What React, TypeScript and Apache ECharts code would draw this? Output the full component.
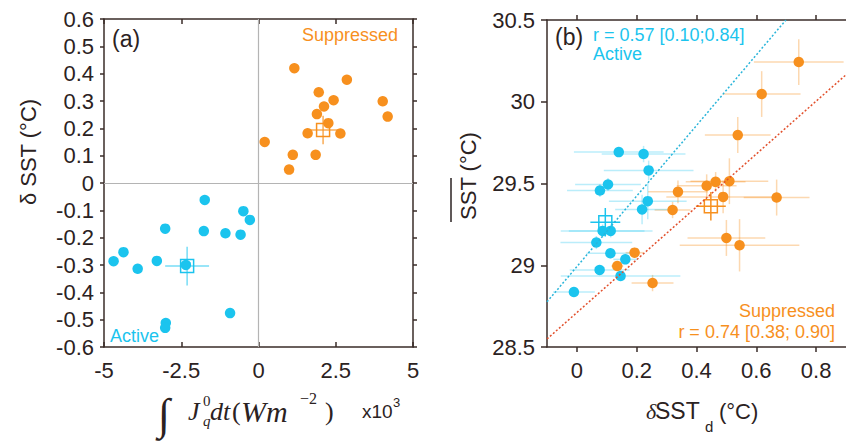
import React, { useEffect, useRef } from "react";
import * as echarts from "echarts";

// ---------- Panel (a) data ----------
const suppressedAX = [1.16, 2.86, 1.95, 2.43, 4.02, 2.12, 4.18, 1.89, 2.26, 1.59, 2.65, 0.2, 1.11, 1.85, 0.99];
const suppressedAY = [0.42, 0.378, 0.332, 0.303, 0.299, 0.28, 0.243, 0.252, 0.219, 0.182, 0.181, 0.15, 0.103, 0.103, 0.049];
const activeAX = [-1.74, -0.49, -0.28, -3.02, -1.77, -1.07, -0.58, -4.37, -4.69, -3.29, -3.91, -2.35, -0.92, -3.0, -3.02];
const activeAY = [-0.062, -0.103, -0.135, -0.167, -0.176, -0.184, -0.189, -0.253, -0.286, -0.285, -0.314, -0.3, -0.476, -0.512, -0.53];
// mean: x, y, xerr, yerr
const suppressedAMean = [2.09, 0.194, 0.53, 0.052];
const activeAMean = [-2.31, -0.304, 0.71, 0.071];

// ---------- Panel (b) data ----------
const suppressedBX = [0.742, 0.618, 0.538, 0.338, 0.434, 0.464, 0.51, 0.489, 0.668, 0.32, 0.5, 0.544, 0.193, 0.135, 0.253];
const suppressedBY = [30.243, 30.047, 29.796, 29.449, 29.486, 29.51, 29.514, 29.418, 29.414, 29.338, 29.167, 29.122, 29.077, 28.995, 28.891];
const suppressedBXErr = [0.15, 0.13, 0.11, 0.1, 0.1, 0.1, 0.13, 0.19, 0.11, 0.06, 0.13, 0.2, 0.03, 0.02, 0.07];
const suppressedBYErr = [0.14, 0.14, 0.11, 0.07, 0.07, 0.06, 0.14, 0.1, 0.11, 0.05, 0.11, 0.16, 0.03, 0.02, 0.05];
const activeBX = [0.14, 0.223, 0.24, 0.104, 0.077, 0.237, 0.218, 0.086, 0.113, 0.065, 0.112, 0.162, 0.076, 0.146, -0.01];
const activeBY = [29.692, 29.68, 29.58, 29.494, 29.457, 29.392, 29.341, 29.21, 29.21, 29.139, 29.073, 29.036, 28.971, 28.934, 28.836];
const activeBXErr = [0.15, 0.14, 0.15, 0.11, 0.11, 0.13, 0.09, 0.14, 0.14, 0.12, 0.08, 0.04, 0.1, 0.2, 0.07];
const activeBYErr = [0.03, 0.05, 0.06, 0.04, 0.04, 0.11, 0.09, 0.04, 0.04, 0.04, 0.03, 0.03, 0.03, 0.03, 0.03];
const suppressedBMean = [0.448, 29.361, 0.05, 0.087];
const activeBMean = [0.095, 29.263, 0.05, 0.087];
const activeFitX = [-0.1, 0.699];
const activeFitY = [28.776, 30.5];
const suppressedFitX = [-0.1, 0.9];
const suppressedFitY = [28.549, 30.165];
const xTicksB = [0, 0.2, 0.4, 0.6, 0.8];

const ORANGE = "#f7901e";
const CYAN = "#1bc4ee";
const AXIS = "#3a2c28";
const TEXT = "#2b2222";
const SANS = "'Liberation Sans', Arial, Helvetica, sans-serif";
const SERIF = "'Liberation Serif', 'Times New Roman', serif";

const zip2 = (a: number[], b: number[]) => a.map((v, i) => [v, b[i]]);
const zip4 = (a: number[], b: number[], c: number[], d: number[]) => a.map((v, i) => [v, b[i], c[i], d[i]]);

const errRender = (color: string, width: number) => (params: any, api: any) => {
  const x = api.value(0), y = api.value(1), xe = api.value(2), ye = api.value(3);
  const l = api.coord([x - xe, y]);
  const r = api.coord([x + xe, y]);
  const t = api.coord([x, y + ye]);
  const b = api.coord([x, y - ye]);
  return {
    type: "group",
    children: [
      { type: "line", shape: { x1: l[0], y1: l[1], x2: r[0], y2: r[1] }, style: { stroke: color, lineWidth: width } },
      { type: "line", shape: { x1: t[0], y1: t[1], x2: b[0], y2: b[1] }, style: { stroke: color, lineWidth: width } },
    ],
  };
};

const label = (extra: any = {}) => ({ color: TEXT, fontSize: 22, fontFamily: SANS, ...extra });

export default function App() {
  const ref = useRef<HTMLDivElement>(null);
  useEffect(() => {
    if (!ref.current) return;
    const chart = echarts.init(ref.current, undefined, { renderer: "svg" });
    const txt = (text: string, x: number, y: number, font: string, fill: string, align = "left", extra: any = {}) => ({
      type: "text",
      x,
      y,
      silent: true,
      ...extra,
      style: { text, font, fill, textAlign: align, textVerticalAlign: "middle" },
    });
    const option: any = {
      animation: false,
      backgroundColor: "#ffffff",
      grid: [
        { left: 104, top: 19, width: 309, height: 328 },
        { left: 547, top: 20, width: 302, height: 327 },
      ],
      xAxis: [
        {
          gridIndex: 0, type: "value", position: "bottom", min: -5, max: 5, interval: 2.5,
          axisLine: { onZero: false, lineStyle: { color: AXIS, width: 1.5 } },
          axisTick: { inside: true, length: 5, lineStyle: { color: AXIS, width: 1.5 } },
          axisLabel: label({ margin: 12, formatter: (v: number) => String(v) }),
          splitLine: { show: false },
        },
        {
          gridIndex: 0, type: "value", position: "top", min: -5, max: 5, interval: 2.5,
          axisLine: { onZero: false, lineStyle: { color: AXIS, width: 1.5 } },
          axisTick: { inside: true, length: 5, lineStyle: { color: AXIS, width: 1.5 } },
          axisLabel: { show: false },
          splitLine: { show: false },
        },
        {
          gridIndex: 1, type: "value", position: "bottom", min: -0.1, max: 0.9,
          axisLine: { onZero: false, lineStyle: { color: AXIS, width: 1.5 } },
          axisTick: { inside: false, length: 5, customValues: xTicksB, lineStyle: { color: AXIS, width: 1.5 } },
          axisLabel: label({ margin: 12, customValues: xTicksB, formatter: (v: number) => String(Math.round(v * 10) / 10) }),
          splitLine: { show: false },
        },
        {
          gridIndex: 1, type: "value", position: "top", min: -0.1, max: 0.9,
          axisLine: { onZero: false, lineStyle: { color: AXIS, width: 1.5 } },
          axisTick: { inside: false, length: 5, customValues: xTicksB, lineStyle: { color: AXIS, width: 1.5 } },
          axisLabel: { show: false },
          splitLine: { show: false },
        },
      ],
      yAxis: [
        {
          gridIndex: 0, type: "value", position: "left", min: -0.6, max: 0.6, interval: 0.1,
          axisLine: { onZero: false, lineStyle: { color: AXIS, width: 1.5 } },
          axisTick: { inside: false, length: 4, lineStyle: { color: AXIS, width: 1.5 } },
          axisLabel: label({ margin: 10, formatter: (v: number) => (Math.abs(v) < 1e-9 ? "0" : v.toFixed(1)) }),
          splitLine: { show: false },
        },
        {
          gridIndex: 0, type: "value", position: "right", min: -0.6, max: 0.6, interval: 0.1,
          axisLine: { onZero: false, lineStyle: { color: AXIS, width: 1.5 } },
          axisTick: { inside: false, length: 4, lineStyle: { color: AXIS, width: 1.5 } },
          axisLabel: { show: false },
          splitLine: { show: false },
        },
        {
          gridIndex: 1, type: "value", position: "left", min: 28.5, max: 30.5, interval: 0.5,
          axisLine: { onZero: false, lineStyle: { color: AXIS, width: 1.5 } },
          axisTick: { inside: false, length: 6, lineStyle: { color: AXIS, width: 1.5 } },
          axisLabel: label({ margin: 12 }),
          splitLine: { show: false },
        },
      ],
      series: [
        // ---- panel (a) ----
        {
          type: "line", xAxisIndex: 0, yAxisIndex: 0, data: [], silent: true,
          markLine: {
            silent: true, symbol: ["none", "none"], label: { show: false },
            lineStyle: { color: "#b4b4b4", type: "solid", width: 1.2 },
            data: [{ xAxis: 0 }, { yAxis: 0 }],
          },
        },
        {
          type: "custom", xAxisIndex: 0, yAxisIndex: 0, clip: false,
          renderItem: errRender("rgba(247,144,30,0.75)", 1.5),
          data: [suppressedAMean], encode: { x: 0, y: 1 },
        },
        {
          type: "custom", xAxisIndex: 0, yAxisIndex: 0, clip: false,
          renderItem: errRender("rgba(27,196,238,0.6)", 1.5),
          data: [activeAMean], encode: { x: 0, y: 1 },
        },
        {
          type: "scatter", xAxisIndex: 0, yAxisIndex: 0, symbolSize: 10.5,
          itemStyle: { color: ORANGE, opacity: 1 }, data: zip2(suppressedAX, suppressedAY),
        },
        {
          type: "scatter", xAxisIndex: 0, yAxisIndex: 0, symbolSize: 10.5,
          itemStyle: { color: CYAN, opacity: 1 }, data: zip2(activeAX, activeAY),
        },
        {
          type: "scatter", xAxisIndex: 0, yAxisIndex: 0, symbol: "rect", symbolSize: 13,
          itemStyle: { color: "rgba(0,0,0,0)", borderColor: ORANGE, borderWidth: 1.5, opacity: 1 },
          data: [[suppressedAMean[0], suppressedAMean[1]]],
        },
        {
          type: "scatter", xAxisIndex: 0, yAxisIndex: 0, symbol: "rect", symbolSize: 13,
          itemStyle: { color: "rgba(0,0,0,0)", borderColor: CYAN, borderWidth: 1.5, opacity: 1 },
          data: [[activeAMean[0], activeAMean[1]]],
        },
        // ---- panel (b) ----
        {
          type: "custom", xAxisIndex: 2, yAxisIndex: 2, clip: false,
          renderItem: errRender("rgba(247,144,30,0.35)", 1.5),
          data: zip4(suppressedBX, suppressedBY, suppressedBXErr, suppressedBYErr), encode: { x: 0, y: 1 },
        },
        {
          type: "custom", xAxisIndex: 2, yAxisIndex: 2, clip: false,
          renderItem: errRender("rgba(27,196,238,0.3)", 1.5),
          data: zip4(activeBX, activeBY, activeBXErr, activeBYErr), encode: { x: 0, y: 1 },
        },
        {
          type: "line", xAxisIndex: 2, yAxisIndex: 2, symbol: "none", silent: true,
          lineStyle: { color: "#2ab5da", width: 1.5, type: [2, 2] },
          data: zip2(activeFitX, activeFitY),
        },
        {
          type: "line", xAxisIndex: 2, yAxisIndex: 2, symbol: "none", silent: true,
          lineStyle: { color: "#e2502c", width: 1.5, type: [2, 2] },
          data: zip2(suppressedFitX, suppressedFitY),
        },
        {
          type: "scatter", xAxisIndex: 2, yAxisIndex: 2, symbolSize: 10.5,
          itemStyle: { color: ORANGE, opacity: 1 }, data: zip2(suppressedBX, suppressedBY),
        },
        {
          type: "scatter", xAxisIndex: 2, yAxisIndex: 2, symbolSize: 10.5,
          itemStyle: { color: CYAN, opacity: 1 }, data: zip2(activeBX, activeBY),
        },
        {
          type: "custom", xAxisIndex: 2, yAxisIndex: 2, clip: false,
          renderItem: errRender(ORANGE, 1.5),
          data: [suppressedBMean], encode: { x: 0, y: 1 },
        },
        {
          type: "custom", xAxisIndex: 2, yAxisIndex: 2, clip: false,
          renderItem: errRender(CYAN, 1.5),
          data: [activeBMean], encode: { x: 0, y: 1 },
        },
        {
          type: "scatter", xAxisIndex: 2, yAxisIndex: 2, symbol: "rect", symbolSize: 13,
          itemStyle: { color: "rgba(0,0,0,0)", borderColor: ORANGE, borderWidth: 1.5, opacity: 1 },
          data: [[suppressedBMean[0], suppressedBMean[1]]],
        },
        {
          type: "scatter", xAxisIndex: 2, yAxisIndex: 2, symbol: "rect", symbolSize: 13,
          itemStyle: { color: "rgba(0,0,0,0)", borderColor: CYAN, borderWidth: 1.5, opacity: 1 },
          data: [[activeBMean[0], activeBMean[1]]],
        },
      ],
      graphic: [
        // panel (a) annotations
        txt("(a)", 112, 39, `23px ${SANS}`, TEXT),
        txt("Suppressed", 302, 35, `18px ${SANS}`, ORANGE),
        txt("Active", 110, 336, `18px ${SANS}`, CYAN),
        txt("δ SST (°C)", 28, 152, `22px ${SANS}`, TEXT, "center", { rotation: Math.PI / 2 }),
        // x label (a): integral expression
        txt("∫", 164, 414, `italic 44px ${SERIF}`, TEXT, "center"),
        txt("J", 188, 411, `italic 26px ${SERIF}`, TEXT),
        txt("0", 203, 401, `15px ${SERIF}`, TEXT),
        txt("q", 203, 421, `italic 15px ${SERIF}`, TEXT),
        txt("dt", 210, 411, `italic 26px ${SERIF}`, TEXT),
        txt("(", 232, 411, `26px ${SERIF}`, TEXT),
        txt("Wm", 241, 411, `italic 30px ${SERIF}`, TEXT),
        txt("−2", 300, 398, `16px ${SERIF}`, TEXT),
        txt(")", 325, 411, `26px ${SERIF}`, TEXT),
        txt("x10", 362, 411, `19px ${SANS}`, TEXT),
        txt("3", 393, 402, `13px ${SANS}`, TEXT),
        // panel (b) annotations
        txt("(b)", 555, 37, `23px ${SANS}`, TEXT),
        txt("r = 0.57 [0.10;0.84]", 593, 35, `18px ${SANS}`, CYAN),
        txt("Active", 593, 54, `18px ${SANS}`, CYAN),
        txt("Suppressed", 835, 311, `18px ${SANS}`, ORANGE, "right"),
        txt("r = 0.74 [0.38; 0.90]", 835, 332, `18px ${SANS}`, ORANGE, "right"),
        txt("SST (°C)", 468, 176, `22px ${SANS}`, TEXT, "center", { rotation: Math.PI / 2 }),
        {
          type: "line", silent: true,
          shape: { x1: 451, y1: 178, x2: 451, y2: 222 },
          style: { stroke: TEXT, lineWidth: 1.5 },
        },
        txt("δ", 646, 411, `italic 22px ${SERIF}`, TEXT),
        txt("SST", 655, 411, `23px ${SANS}`, TEXT),
        txt("d", 705, 426, `15px ${SANS}`, TEXT),
        txt("(°C)", 719, 411, `22px ${SANS}`, TEXT),
      ],
    };
    chart.setOption(option);
    return () => chart.dispose();
  }, []);
  return (
    <div
      ref={ref}
      style={{ position: "fixed", left: 0, top: 0, width: 846, height: 444, background: "#fff" }}
    />
  );
}
